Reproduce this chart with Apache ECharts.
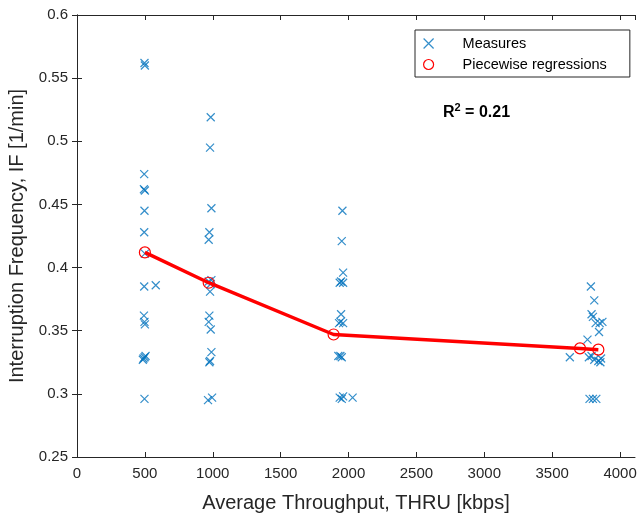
<!DOCTYPE html>
<html>
<head>
<meta charset="utf-8">
<script src="https://cdn.jsdelivr.net/npm/echarts@6/dist/echarts.min.js"></script>
<style>
  html, body { margin: 0; padding: 0; background: #fff; }
  #main { width: 640px; height: 518px; }
</style>
</head>
<body>
<div id="main"></div>
<script>
var measuresX = [
    497, 500, 495, 493, 500, 497, 495, 500, 495, 580, 493, 497, 500, 498, 490, 505, 485, 497,
    985, 980, 990, 975, 970, 990, 970, 985, 980, 975, 970, 985, 990, 980, 975, 995, 965,
    1955, 1950, 1960, 1945, 1960, 1935, 1945, 1940, 1960, 1930, 1940, 1925, 1950, 1935, 1950, 1960, 2030,
    3785, 3810, 3790, 3800, 3820, 3850, 3870, 3845, 3760, 3630, 3770, 3790, 3810, 3840, 3860, 3855, 3775, 3800, 3825
];
var measuresY = [
    0.562, 0.560, 0.474, 0.462, 0.461, 0.445, 0.428, 0.411, 0.385, 0.386, 0.362, 0.357, 0.355, 0.329, 0.328, 0.330, 0.327, 0.296,
    0.519, 0.495, 0.447, 0.428, 0.422, 0.390, 0.389, 0.387, 0.381, 0.362, 0.357, 0.351, 0.333, 0.326, 0.325, 0.297, 0.295,
    0.445, 0.421, 0.396, 0.389, 0.388, 0.388, 0.363, 0.357, 0.356, 0.356, 0.330, 0.330, 0.329, 0.297, 0.296, 0.298, 0.297,
    0.385, 0.374, 0.363, 0.361, 0.356, 0.356, 0.357, 0.349, 0.343, 0.329, 0.329, 0.330, 0.327, 0.326, 0.328, 0.325, 0.296, 0.296, 0.296
];

// piecewise regression nodes
var regX = [500, 970, 1890, 3705, 3840];
var regY = [0.412, 0.388, 0.347, 0.336, 0.335];

var xTicks = [0, 500, 1000, 1500, 2000, 2500, 3000, 3500, 4000];
var yTicks = [0.25, 0.3, 0.35, 0.4, 0.45, 0.5, 0.55, 0.6];

var font = 'Liberation Sans, Arial, Helvetica, sans-serif';
var axisColor = '#262626';
var blue = '#0072BD';
var crossIcon = 'path://M0,0L10,10M10,0L0,10';

var measures = measuresX.map(function (x, i) { return [x, measuresY[i]]; });
var regression = regX.map(function (x, i) { return [x, regY[i]]; });

var chart = echarts.init(document.getElementById('main'));

var baseAxis = {
    axisLine: { show: true, lineStyle: { color: axisColor, width: 1 } },
    axisTick: { show: true, inside: true, length: 5, lineStyle: { color: axisColor } },
    splitLine: { show: false }
};

chart.setOption({
    backgroundColor: '#fff',
    animation: false,
    textStyle: { fontFamily: font },
    grid: { left: 77, right: 5, top: 15, bottom: 61, containLabel: false, outerBoundsMode: 'none' },
    legend: {
        orient: 'vertical',
        left: 415,
        top: 30,
        padding: [6, 23, 5, 8],
        itemGap: 6,
        itemWidth: 14,
        itemHeight: 10,
        backgroundColor: '#fff',
        borderColor: axisColor,
        borderWidth: 1,
        borderRadius: 0,
        textStyle: { fontFamily: font, fontSize: 14.5, color: '#000', padding: [0, 0, 0, 22] },
        data: [
            { name: 'Measures', icon: crossIcon,
              itemStyle: { color: 'rgba(0,0,0,0)', borderColor: blue, borderWidth: 1.2 } },
            { name: 'Piecewise regressions', icon: 'circle',
              itemStyle: { color: 'rgba(0,0,0,0)', borderColor: '#ff0000', borderWidth: 1.2 } }
        ]
    },
    graphic: [{
        type: 'text',
        left: 443,
        top: 102,
        style: {
            text: '{b|R}{s|2}{b| = 0.21}',
            rich: {
                b: { fontFamily: font, fontSize: 16, fontWeight: 'bold', fill: '#000', verticalAlign: 'bottom' },
                s: { fontFamily: font, fontSize: 11, fontWeight: 'bold', fill: '#000', verticalAlign: 'top', padding: [0, 0, 8, 0] }
            }
        }
    }],
    xAxis: [
        echarts.util.merge({
            type: 'value',
            min: 0,
            max: 4110,
            interval: 500,
            name: 'Average Throughput, THRU [kbps]',
            nameLocation: 'middle',
            nameGap: 36,
            nameTextStyle: { fontFamily: font, fontSize: 20, color: axisColor },
            axisLabel: {
                fontFamily: font, fontSize: 15, color: axisColor, margin: 9,
                showMaxLabel: false,
                formatter: function (v) { return xTicks.indexOf(v) >= 0 ? String(v) : ''; }
            }
        }, baseAxis, true),
        echarts.util.merge({
            type: 'value', position: 'top', min: 0, max: 4110, interval: 500,
            axisLabel: { show: false }
        }, baseAxis, true)
    ],
    yAxis: [
        echarts.util.merge({
            type: 'value',
            min: 0.25,
            max: 0.6,
            interval: 0.05,
            name: 'Interruption Frequency, IF [1/min]',
            nameLocation: 'middle',
            nameGap: 47,
            nameTextStyle: { fontFamily: font, fontSize: 20, color: axisColor },
            axisLabel: {
                fontFamily: font, fontSize: 15, color: axisColor, margin: 9,
                formatter: function (v) {
                    var r = Math.round(v * 100) / 100;
                    return yTicks.indexOf(r) >= 0 ? String(r) : '';
                }
            }
        }, baseAxis, true),
        echarts.util.merge({
            type: 'value', position: 'right', min: 0.25, max: 0.6, interval: 0.05,
            axisLabel: { show: false }
        }, baseAxis, true)
    ],
    series: [
        {
            name: 'Measures',
            type: 'scatter',
            data: measures,
            symbol: crossIcon,
            symbolSize: 8,
            itemStyle: { color: 'rgba(0,0,0,0)', borderColor: blue, borderWidth: 1.2 },
            z: 2
        },
        {
            name: 'Piecewise regressions',
            type: 'line',
            data: regression,
            symbol: 'circle',
            symbolSize: 11,
            showAllSymbol: true,
            lineStyle: { color: '#ff0000', width: 3.5 },
            itemStyle: { color: 'rgba(0,0,0,0)', borderColor: '#ff0000', borderWidth: 1.2 },
            z: 3
        }
    ]
});
</script>
</body>
</html>
